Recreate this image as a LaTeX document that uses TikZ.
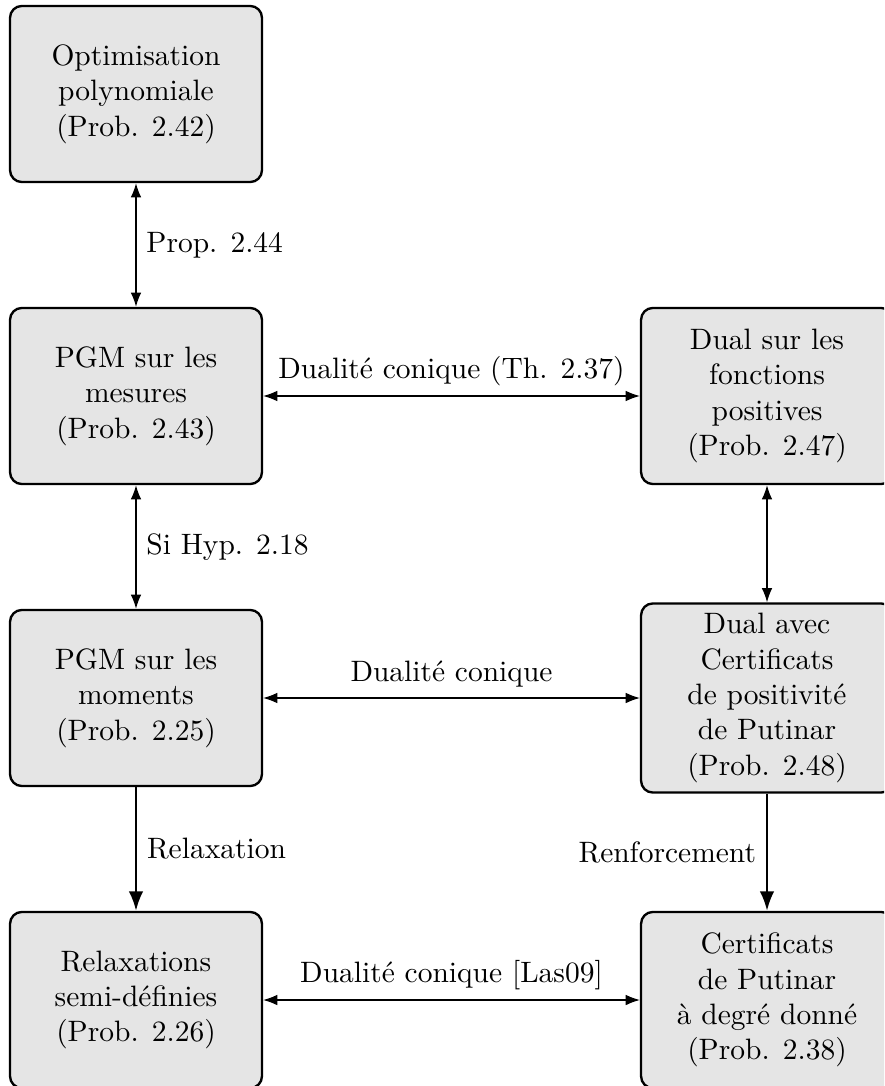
\documentclass[tikz,border=0pt]{standalone}
\usetikzlibrary{arrows.meta}
\begin{document}
\begin{tikzpicture}[x=0.339pt,y=-0.339pt,
  box/.style={draw, line width=0.8pt, rounded corners=4pt, fill=gray!20,
    minimum width=85.4pt, minimum height=59.7pt, align=center},
  biarrow/.style={Latex-Latex, line width=0.4pt},
  onearrow/.style={-Latex, line width=0.8pt}]
\useasboundingbox (0,0) rectangle (884,1086);
\clip (0,0) rectangle (884,1086);
\node[box] (opt) at (136,94) {Optimisation\\polynomiale\\(Prob. 2.42)};
\node[box] (mes) at (136,396) {PGM sur les\\mesures\\(Prob. 2.43)};
\node[box] (dfp) at (767,396) {Dual sur les\\fonctions\\positives\\(Prob. 2.47)};
\node[box] (mom) at (136,698) {PGM sur les\\moments\\(Prob. 2.25)};
\node[box] (dput) at (767,698) {Dual avec\\Certificats\\de positivité\\de Putinar\\(Prob. 2.48)};
\node[box] (rel) at (136,1000) {Relaxations\\semi-définies\\(Prob. 2.26)};
\node[box] (cert) at (767,1000) {Certificats\\de Putinar\\à degré donné\\(Prob. 2.38)};
\draw[biarrow] (opt) -- node[right] {Prop. 2.44} (mes);
\draw[biarrow] (mes) -- node[above] {Dualité conique (Th. 2.37)} (dfp);
\draw[biarrow] (dfp) -- (dput);
\draw[biarrow] (mes) -- node[right] {Si Hyp. 2.18} (mom);
\draw[biarrow] (mom) -- node[above] {Dualité conique} (dput);
\draw[onearrow] (mom) -- node[right] {Relaxation} (rel);
\draw[onearrow] (dput) -- node[left] {Renforcement} (cert);
\draw[biarrow] (rel) -- node[above] {Dualité conique [Las09]} (cert);
\end{tikzpicture}
\end{document}
